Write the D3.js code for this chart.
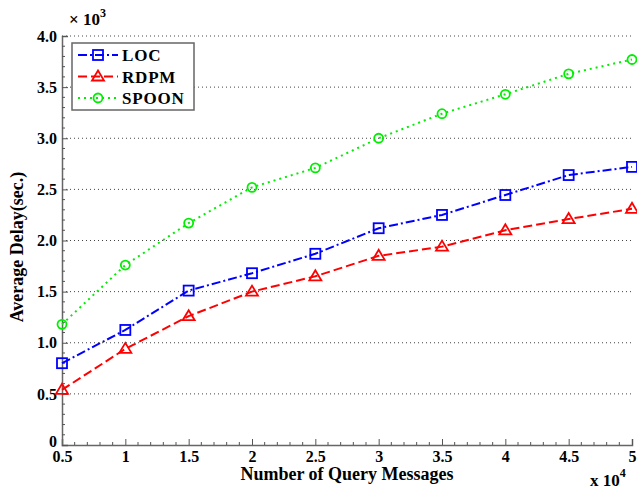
<!DOCTYPE html>
<html>
<head>
<meta charset="utf-8">
<script src="https://cdnjs.cloudflare.com/ajax/libs/d3/7.8.5/d3.min.js"></script>
<style>
  body { margin: 0; background: #fff; }
  text { font-family: "Liberation Serif", "Times New Roman", serif; font-weight: bold; }
</style>
</head>
<body>
<div id="chart"></div>
<script>
// query messages (x 10^4)
var messages = [0.5, 1, 1.5, 2, 2.5, 3, 3.5, 4, 4.5, 5];
// average delay (x 10^3 sec)
var loc   = [0.80, 1.125, 1.51, 1.68, 1.87, 2.12, 2.25, 2.445, 2.64, 2.72];
var rdpm  = [0.54, 0.94, 1.26, 1.50, 1.65, 1.85, 1.94, 2.10, 2.21, 2.31];
var spoon = [1.18, 1.76, 2.17, 2.52, 2.71, 3.00, 3.24, 3.43, 3.63, 3.77];
var xTicks = [0.5, 1, 1.5, 2, 2.5, 3, 3.5, 4, 4.5, 5];
var yTicks = [0, 0.5, 1, 1.5, 2, 2.5, 3, 3.5, 4];
var seriesNames = ['LOC', 'RDPM', 'SPOON'];

var width = 637, height = 491;
var margin = { top: 36, left: 62, right: 5, bottom: 46 };

var svg = d3.select('#chart').append('svg').attr('width', width).attr('height', height);

var x = d3.scaleLinear().domain([0.5, 5]).range([margin.left, width - margin.right]);
var y = d3.scaleLinear().domain([0, 4]).range([height - margin.bottom, margin.top]);

// horizontal dotted grid
svg.append('g').attr('class', 'grid').selectAll('line')
  .data(yTicks.filter(d => d > 0)).enter().append('line')
  .attr('x1', x(0.5)).attr('x2', x(5))
  .attr('y1', d => y(d)).attr('y2', d => y(d))
  .attr('stroke', '#444').attr('stroke-width', 1).attr('stroke-dasharray', '1,3');

// minor ticks every 0.1
var xMinor = d3.range(6, 50).map(d => d / 10).filter(d => Math.abs(d * 2 - Math.round(d * 2)) > 1e-6);
var yMinor = d3.range(1, 40).map(d => d / 10).filter(d => Math.abs(d * 2 - Math.round(d * 2)) > 1e-6);

var xAxis = d3.axisBottom(x).tickValues(xTicks).tickSize(-6).tickPadding(6)
  .tickFormat(d => d3.format('')(d));
var yAxis = d3.axisLeft(y).tickValues(yTicks).tickSize(-6).tickPadding(5)
  .tickFormat(d => d === 0 ? '0' : d3.format('.1f')(d));

var gx = svg.append('g').attr('class', 'xAxis').attr('transform', `translate(0, ${y(0)})`).call(xAxis);
var gy = svg.append('g').attr('class', 'yAxis').attr('transform', `translate(${x(0.5)}, 0)`).call(yAxis);

svg.append('g').attr('class', 'xMinor').selectAll('line').data(xMinor).enter().append('line')
  .attr('x1', d => x(d)).attr('x2', d => x(d)).attr('y1', y(0)).attr('y2', y(0) - 3)
  .attr('stroke', '#555');
svg.append('g').attr('class', 'yMinor').selectAll('line').data(yMinor).enter().append('line')
  .attr('x1', x(0.5)).attr('x2', x(0.5) + 3).attr('y1', d => y(d)).attr('y2', d => y(d))
  .attr('stroke', '#555');

[gx, gy].forEach(function (g) {
  g.select('.domain').attr('stroke', '#666').attr('stroke-width', 1.5);
  g.selectAll('.tick line').attr('stroke', '#555');
  g.selectAll('.tick text').attr('fill', '#000').style('font-size', '16px')
    .style('font-family', '"Liberation Serif", serif').style('font-weight', 'bold');
});
// lift the "0" label a little so it clears the x labels
gy.selectAll('.tick').filter(d => d === 0).select('text').attr('dy', '0.1em');

// axis titles
svg.append('text').attr('x', 347).attr('y', 480).attr('text-anchor', 'middle')
  .style('font-size', '18px').text('Number of Query Messages');
svg.append('text').attr('transform', 'translate(23, 247) rotate(-90)').attr('text-anchor', 'middle')
  .style('font-size', '18px').text('Average Delay(sec.)');

// exponents
var e3 = svg.append('text').attr('x', 69).attr('y', 25).style('font-size', '17px');
e3.append('tspan').text('× 10');
e3.append('tspan').attr('dy', -8).style('font-size', '12px').text('3');
var e4 = svg.append('text').attr('x', 590).attr('y', 486).style('font-size', '17px');
e4.append('tspan').text('x 10');
e4.append('tspan').attr('dy', -9).style('font-size', '12px').text('4');

// series
var series = [
  { name: seriesNames[0], values: loc,   color: '#0000ff', dash: '9,3,2,3', marker: 'square' },
  { name: seriesNames[1], values: rdpm,  color: '#ff0000', dash: '9,4',     marker: 'triangle' },
  { name: seriesNames[2], values: spoon, color: '#00ee00', dash: '2,4',     marker: 'circle' }
];

var line = d3.line().x((d, i) => x(messages[i])).y(d => y(d));

function drawMarker(g, type, cx, cy, color) {
  if (type === 'square') {
    g.append('rect').attr('x', cx - 5).attr('y', cy - 5).attr('width', 10).attr('height', 10)
      .attr('fill', 'none').attr('stroke', color).attr('stroke-width', 1.8);
  } else if (type === 'triangle') {
    g.append('path').attr('d', `M${cx},${cy - 6}L${cx + 6},${cy + 4}L${cx - 6},${cy + 4}Z`)
      .attr('fill', 'none').attr('stroke', color).attr('stroke-width', 1.8);
  } else {
    g.append('circle').attr('cx', cx).attr('cy', cy).attr('r', 4.5)
      .attr('fill', 'none').attr('stroke', color).attr('stroke-width', 1.8);
  }
}

series.forEach(function (s) {
  var g = svg.append('g').attr('class', 'series');
  g.append('path').datum(s.values).attr('d', line).attr('fill', 'none')
    .attr('stroke', s.color).attr('stroke-width', 2).attr('stroke-dasharray', s.dash);
  s.values.forEach(function (v, i) { drawMarker(g, s.marker, x(messages[i]), y(v), s.color); });
});

// legend
var legend = svg.append('g').attr('class', 'legend');
legend.append('rect').attr('x', 72).attr('y', 43).attr('width', 122).attr('height', 67)
  .attr('fill', '#fff').attr('stroke', '#666').attr('stroke-width', 1.5);
series.forEach(function (s, i) {
  var ly = 55 + i * 21.5;
  legend.append('line').attr('x1', 78).attr('x2', 118).attr('y1', ly).attr('y2', ly)
    .attr('stroke', s.color).attr('stroke-width', 2).attr('stroke-dasharray', s.dash);
  drawMarker(legend, s.marker, 98, ly, s.color);
  legend.append('text').attr('x', 122).attr('y', ly + 6).style('font-size', '17px')
    .style('letter-spacing', '0.8px').text(s.name);
});
</script>
</body>
</html>
